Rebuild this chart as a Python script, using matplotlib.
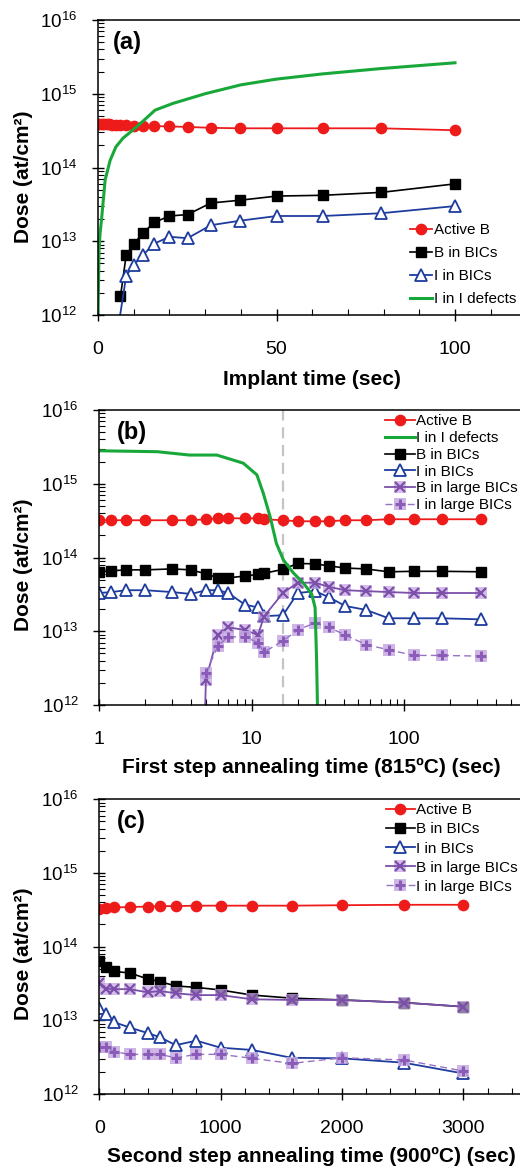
import numpy as np
import matplotlib
matplotlib.use("Agg")
import matplotlib.pyplot as plt
from matplotlib.ticker import MultipleLocator, LogLocator, LogFormatterSciNotation, NullFormatter, FuncFormatter
from matplotlib.legend_handler import HandlerTuple

plt.rcParams['font.family'] = ['Liberation Sans', 'DejaVu Sans']
plt.rcParams['mathtext.fontset'] = 'custom'
plt.rcParams['mathtext.rm'] = 'Liberation Sans'

# ---- (a) implant ----
t_a_active = [0, 0.4, 1, 1.6, 2.5, 3.2, 4, 5, 6.3, 7.9, 10, 12.6, 15.8, 20, 25.1, 31.6, 39.8, 50.1, 63.1, 79.4, 100]
a_active = [3.85e14, 3.85e14, 3.85e14, 3.85e14, 3.85e14, 3.85e14, 3.8e14, 3.8e14, 3.75e14, 3.75e14, 3.7e14,
            3.65e14, 3.65e14, 3.6e14, 3.55e14, 3.45e14, 3.4e14, 3.4e14, 3.4e14, 3.4e14, 3.2e14]
t_a_bics = [6.3, 7.9, 10, 12.6, 15.8, 20, 25.1, 31.6, 39.8, 50.1, 63.1, 79.4, 100]
a_b_bics = [1.8e12, 6.5e12, 9.1e12, 1.3e13, 1.8e13, 2.2e13, 2.3e13, 3.3e13, 3.6e13, 4.1e13, 4.2e13, 4.6e13, 6.0e13]
t_a_ibics = [6.2, 7.9, 10, 12.6, 15.8, 20, 25.1, 31.6, 39.8, 50.1, 63.1, 79.4, 100]
a_i_bics = [1.0e12, 3.4e12, 4.8e12, 6.5e12, 9.3e12, 1.15e13, 1.1e13, 1.65e13, 1.9e13, 2.2e13, 2.2e13, 2.4e13, 3.0e13]
t_a_idef = [0, 0.3, 0.6, 1, 2, 3.4, 5, 7, 9, 12, 16, 21, 30, 40, 50, 63, 79, 100]
a_i_def = [1e12, 8e12, 1.3e13, 2.0e13, 6.8e13, 1.25e14, 1.9e14, 2.5e14, 3.0e14, 4.0e14, 6.0e14, 7.4e14,
           1.0e15, 1.32e15, 1.58e15, 1.86e15, 2.19e15, 2.63e15]

# ---- (b) first step anneal, 815 C ----
t_b = [1, 1.2, 1.5, 2, 3, 4, 5, 6, 7, 9, 11, 12, 16, 20, 26, 32, 41, 56, 79, 116, 176, 316]
b_active = [3.2e14, 3.2e14, 3.2e14, 3.2e14, 3.2e14, 3.2e14, 3.3e14, 3.4e14, 3.4e14, 3.4e14, 3.4e14,
            3.3e14, 3.2e14, 3.1e14, 3.1e14, 3.1e14, 3.2e14, 3.2e14, 3.3e14, 3.3e14, 3.3e14, 3.3e14]
b_b_bics = [6.4e13, 6.6e13, 6.8e13, 6.8e13, 7.0e13, 6.8e13, 6.0e13, 5.3e13, 5.3e13, 5.6e13, 5.9e13,
            6.1e13, 6.9e13, 8.3e13, 8.2e13, 7.7e13, 7.2e13, 7.0e13, 6.4e13, 6.5e13, 6.5e13, 6.4e13]
b_i_bics = [3.3e13, 3.4e13, 3.6e13, 3.6e13, 3.4e13, 3.2e13, 3.6e13, 3.6e13, 3.3e13, 2.3e13, 2.1e13,
            1.6e13, 1.65e13, 3.3e13, 3.5e13, 2.9e13, 2.2e13, 1.95e13, 1.5e13, 1.5e13, 1.5e13, 1.45e13]
t_b_large = [4.95, 5, 6, 7, 9, 11, 12, 16, 20, 26, 32, 41, 56, 79, 116, 176, 316]
b_b_large = [1e12, 2.2e12, 8.9e12, 1.13e13, 1.04e13, 8.9e12, 1.58e13, 3.3e13, 4.55e13, 4.55e13, 4.0e13,
             3.6e13, 3.5e13, 3.4e13, 3.3e13, 3.3e13, 3.3e13]
t_b_ilarge = [5, 6, 7, 9, 11, 12, 16, 20, 26, 32, 41, 56, 79, 116, 176, 316]
b_i_large = [2.7e12, 6.4e12, 8.4e12, 8.4e12, 7.0e12, 5.2e12, 7.4e12, 1.04e13, 1.3e13, 1.13e13, 8.9e12,
             6.6e12, 5.6e12, 4.7e12, 4.7e12, 4.6e12]
t_b_idef = [1, 2.4, 3.9, 5.9, 8.8, 10.8, 11.9, 13.2, 14.5, 16.1, 18.7, 21.8, 24.7, 26.0, 26.6, 27.0]
b_i_def = [2.8e15, 2.72e15, 2.45e15, 2.45e15, 1.9e15, 1.32e15, 7.4e14, 3.55e14, 1.55e14, 9.3e13, 6.2e13,
           4.5e13, 3.2e13, 2.1e13, 4.1e12, 8e11]
t_b_marker = 15.9

# ---- (c) second step anneal, 900 C ----
t_c = [0, 55, 125, 250, 400, 500, 630, 800, 1000, 1260, 1585, 2000, 2510, 3000]
c_active = [3.2e14, 3.3e14, 3.4e14, 3.45e14, 3.5e14, 3.55e14, 3.55e14, 3.6e14, 3.6e14, 3.6e14,
            3.6e14, 3.65e14, 3.7e14, 3.7e14]
c_b_bics = [6.4e13, 5.35e13, 4.6e13, 4.4e13, 3.64e13, 3.35e13, 2.93e13, 2.8e13, 2.58e13, 2.2e13,
            2.0e13, 1.89e13, 1.74e13, 1.53e13]
c_i_bics = [1.46e13, 1.2e13, 9.4e12, 8.0e12, 6.7e12, 5.9e12, 4.6e12, 5.3e12, 4.25e12, 3.96e12,
            3.1e12, 3.05e12, 2.66e12, 1.9e12]
c_b_large = [3.25e13, 2.7e13, 2.65e13, 2.65e13, 2.4e13, 2.5e13, 2.33e13, 2.2e13, 2.2e13, 1.93e13,
             1.89e13, 1.89e13, 1.74e13, 1.53e13]
c_i_large = [4.4e12, 4.3e12, 3.75e12, 3.45e12, 3.45e12, 3.45e12, 3.1e12, 3.45e12, 3.45e12, 3.05e12,
             2.6e12, 3.1e12, 2.9e12, 2.05e12]

RED = '#EE1B1B'
BLUE = '#1E3C9E'
GREEN = '#18A83A'
PURPLE = '#7B4FAA'
LAV_LINE = '#9572C6'
LAV_PLUS = '#8A5CB8'
LAV_SQ = '#C6A9E2'

FIG_W, FIG_H = 520, 1169


def px_axes(left, top, right, bottom):
    return [left / FIG_W, 1 - bottom / FIG_H, (right - left) / FIG_W, (bottom - top) / FIG_H]


def clipped_formatter(vmax):
    # labels past the right edge of the figure are left blank
    return FuncFormatter(lambda v, p: f'{v:g}' if v <= vmax else '')


def style_axes(ax):
    ax.set_yscale('log')
    ax.set_ylim(1e12, 1e16)
    ax.yaxis.set_major_locator(LogLocator(base=10, numticks=10))
    ax.yaxis.set_minor_locator(LogLocator(base=10, subs=np.arange(2, 10), numticks=50))
    ax.yaxis.set_major_formatter(LogFormatterSciNotation())
    ax.yaxis.set_minor_formatter(NullFormatter())
    ax.tick_params(which='major', direction='inout', length=8, width=1)
    ax.tick_params(which='minor', direction='in', length=4, width=0.8)
    ax.tick_params(axis='y', which='major', pad=11, labelsize=13.5)
    ax.tick_params(axis='x', which='major', pad=15, labelsize=14)
    ax.spines['right'].set_visible(False)
    for s in ('left', 'bottom', 'top'):
        ax.spines[s].set_linewidth(1.1)
    ax.set_ylabel('Dose (at/cm²)', fontsize=15, fontweight='bold')


def plot_circles(ax, x, y, label):
    return ax.plot(x, y, '-o', color=RED, lw=1.3, ms=7.4, mec=RED, label=label)[0]


def plot_squares(ax, x, y, label):
    return ax.plot(x, y, '-s', color='black', lw=1.2, ms=7, label=label)[0]


def plot_triangles(ax, x, y, label, markevery=None):
    return ax.plot(x, y, '-^', color=BLUE, lw=1.3, ms=8, mfc='white', mew=1.3,
                   markevery=markevery, label=label)[0]


def plot_xs(ax, x, y, label, markevery=None):
    bg = ax.plot(x, y, 's', ls='none', color=LAV_SQ, alpha=0.75, ms=8, mew=0,
                 markevery=markevery)[0]
    fg = ax.plot(x, y, '-x', color=PURPLE, lw=1.3, ms=7, mew=1.6, markevery=markevery)[0]
    return (bg, fg)


def plot_pluses(ax, x, y, label):
    bg = ax.plot(x, y, 's', ls='none', color=LAV_SQ, alpha=0.85, ms=8, mew=0)[0]
    fg = ax.plot(x, y, '+', ls=(0, (5, 3)), color=LAV_LINE, lw=1.0, ms=7, mew=2.2,
                 mec=LAV_PLUS)[0]
    return (bg, fg)


fig = plt.figure(figsize=(FIG_W / 100, FIG_H / 100), dpi=100)

# (a) implant time, linear x
ax_a = fig.add_axes(px_axes(98, 20, 526.4, 315))
style_axes(ax_a)
h_act = plot_circles(ax_a, t_a_active, a_active, 'Active B')
h_bb = plot_squares(ax_a, t_a_bics, a_b_bics, 'B in BICs')
h_ib = plot_triangles(ax_a, t_a_ibics, a_i_bics, 'I in BICs', markevery=list(range(1, len(t_a_ibics))))
h_def, = ax_a.plot(t_a_idef, a_i_def, '-', color=GREEN, lw=2.2, label='I in I defects')
ax_a.set_xlim(0, 120)
ax_a.xaxis.set_major_locator(MultipleLocator(50))
ax_a.xaxis.set_minor_locator(MultipleLocator(10))
ax_a.xaxis.set_major_formatter(clipped_formatter(100))
ax_a.set_xlabel('Implant time (sec)', fontsize=15, fontweight='bold')
ax_a.xaxis.set_label_coords(0.5, -0.186)
ax_a.yaxis.set_label_coords(-0.152, 0.468)
ax_a.text(0.035, 0.962, '(a)', transform=ax_a.transAxes, fontsize=17, fontweight='bold', va='top')
ax_a.legend([h_act, h_bb, h_ib, h_def], ['Active B', 'B in BICs', 'I in BICs', 'I in I defects'],
            loc='upper left', bbox_to_anchor=(0.728, 0.312), frameon=False, fontsize=11,
            borderpad=0, borderaxespad=0, handlelength=1.45, handletextpad=0.1,
            labelspacing=0.6, numpoints=1)

# (b) first anneal, log x
ax_b = fig.add_axes(px_axes(99.3, 410, 556.8, 705))
style_axes(ax_b)
ax_b.set_xscale('log')
ax_b.set_xlim(1, 1000)
ax_b.xaxis.set_major_locator(LogLocator(base=10, numticks=10))
ax_b.xaxis.set_minor_locator(LogLocator(base=10, subs=np.arange(2, 10), numticks=50))
ax_b.xaxis.set_major_formatter(clipped_formatter(100))
ax_b.xaxis.set_minor_formatter(NullFormatter())
ax_b.axvline(t_b_marker, color='#C4C4C4', lw=1.6, ls=(0, (5, 3)), zorder=1)
h_act = plot_circles(ax_b, t_b, b_active, 'Active B')
h_bb = plot_squares(ax_b, t_b, b_b_bics, 'B in BICs')
h_ib = plot_triangles(ax_b, t_b, b_i_bics, 'I in BICs')
h_bl = plot_xs(ax_b, t_b_large, b_b_large, 'B in large BICs', markevery=list(range(1, len(t_b_large))))
h_il = plot_pluses(ax_b, t_b_ilarge, b_i_large, 'I in large BICs')
h_def, = ax_b.plot(t_b_idef, b_i_def, '-', color=GREEN, lw=2.2, label='I in I defects')
ax_b.set_xlabel('First step annealing time (815ºC) (sec)', fontsize=15, fontweight='bold')
ax_b.xaxis.set_label_coords(0.463, -0.18)
ax_b.yaxis.set_label_coords(-0.145, 0.476)
ax_b.text(0.039, 0.962, '(b)', transform=ax_b.transAxes, fontsize=17, fontweight='bold', va='top')
ax_b.legend([h_act, h_def, h_bb, h_ib, h_bl, h_il],
            ['Active B', 'I in I defects', 'B in BICs', 'I in BICs', 'B in large BICs', 'I in large BICs'],
            handler_map={tuple: HandlerTuple(ndivide=1)},
            loc='upper left', bbox_to_anchor=(0.6245, 0.985), frameon=False, fontsize=11,
            borderpad=0, borderaxespad=0, handlelength=1.95, handletextpad=0.1,
            labelspacing=0.18, numpoints=1)

# (c) second anneal, linear x
ax_c = fig.add_axes(px_axes(99.3, 799.3, 523.9, 1094))
style_axes(ax_c)
h_act = plot_circles(ax_c, t_c, c_active, 'Active B')
h_bb = plot_squares(ax_c, t_c, c_b_bics, 'B in BICs')
h_ib = plot_triangles(ax_c, t_c, c_i_bics, 'I in BICs')
h_bl = plot_xs(ax_c, t_c, c_b_large, 'B in large BICs')
h_il = plot_pluses(ax_c, t_c, c_i_large, 'I in large BICs')
ax_c.set_xlim(0, 3500)
ax_c.xaxis.set_major_locator(MultipleLocator(1000))
ax_c.xaxis.set_minor_locator(MultipleLocator(200))
ax_c.xaxis.set_major_formatter(clipped_formatter(3000))
ax_c.set_xlabel('Second step annealing time (900ºC) (sec)', fontsize=15, fontweight='bold')
ax_c.xaxis.set_label_coords(0.5, -0.18)
ax_c.yaxis.set_label_coords(-0.156, 0.475)
ax_c.text(0.042, 0.965, '(c)', transform=ax_c.transAxes, fontsize=17, fontweight='bold', va='top')
ax_c.legend([h_act, h_bb, h_ib, h_bl, h_il],
            ['Active B', 'B in BICs', 'I in BICs', 'B in large BICs', 'I in large BICs'],
            handler_map={tuple: HandlerTuple(ndivide=1)},
            loc='upper left', bbox_to_anchor=(0.675, 0.986), frameon=False, fontsize=11,
            borderpad=0, borderaxespad=0, handlelength=1.9, handletextpad=0.1,
            labelspacing=0.33, numpoints=1)

fig.savefig('out.png', dpi=100)
